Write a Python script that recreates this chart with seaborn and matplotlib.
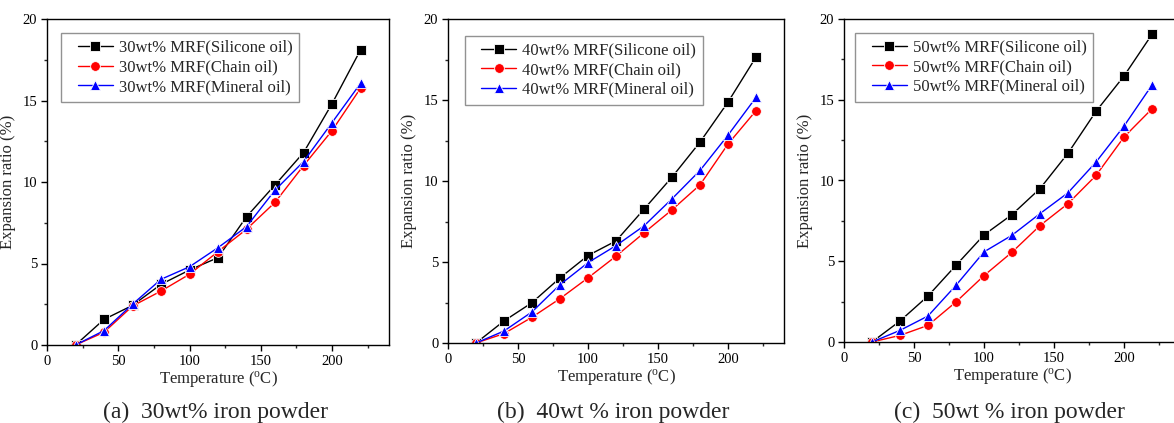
import numpy as np
import pandas as pd
import matplotlib
matplotlib.use("Agg")
import matplotlib.pyplot as plt
import seaborn as sns
from matplotlib.ticker import MultipleLocator
from matplotlib.lines import Line2D
from matplotlib.legend_handler import HandlerLine2D

temps = [20, 40, 60, 80, 100, 120, 140, 160, 180, 200, 220]
oils = ["Silicone oil", "Chain oil", "Mineral oil"]

a_silicone = [0, 1.57, 2.43, 3.72, 4.6, 5.36, 7.87, 9.82, 11.8, 14.8, 18.1]
a_chain = [0, 0.78, 2.39, 3.31, 4.34, 5.73, 7.1, 8.75, 11.0, 13.15, 15.75]
a_mineral = [0, 0.88, 2.5, 4.03, 4.8, 5.97, 7.26, 9.5, 11.25, 13.64, 16.05]

b_silicone = [0, 1.36, 2.49, 4.02, 5.4, 6.3, 8.26, 10.24, 12.4, 14.87, 17.65]
b_chain = [0, 0.58, 1.59, 2.74, 4.02, 5.36, 6.8, 8.22, 9.76, 12.28, 14.34]
b_mineral = [0, 0.74, 1.92, 3.6, 4.96, 6.01, 7.23, 8.9, 10.65, 12.83, 15.16]

c_silicone = [0, 1.3, 2.85, 4.75, 6.63, 7.89, 9.5, 11.69, 14.28, 16.47, 19.05]
c_chain = [0, 0.41, 1.03, 2.48, 4.11, 5.56, 7.21, 8.57, 10.31, 12.69, 14.44]
c_mineral = [0, 0.72, 1.61, 3.51, 5.58, 6.61, 7.95, 9.24, 11.14, 13.37, 15.91]

wt_labels = ["30wt%", "40wt%", "50wt%"]
captions = ["(a)  30wt% iron powder", "(b)  40wt % iron powder", "(c)  50wt % iron powder"]

panels = [
    (a_silicone, a_chain, a_mineral),
    (b_silicone, b_chain, b_mineral),
    (c_silicone, c_chain, c_mineral),
]

sns.set_theme(style="ticks")
plt.rcParams["font.family"] = ["Liberation Serif", "DejaVu Serif"]
plt.rcParams["mathtext.fontset"] = "custom"
plt.rcParams["mathtext.rm"] = "Liberation Serif"
plt.rcParams["mathtext.it"] = "Liberation Serif:italic"

fig = plt.figure(figsize=(11.74, 4.23), dpi=100)
W, H = 1174.0, 423.0
# (left, right, top, bottom) in pixels
rects = [(47, 389, 19, 345), (448, 784, 19, 343), (844, 1180, 19, 342)]
leg_anchor = [(0.041, 0.957), (0.05, 0.948), (0.033, 0.957)]
palette = ["black", "red", "blue"]
markers = ["s", "o", "^"]

for i, (vals, rect, wt, cap) in enumerate(zip(panels, rects, wt_labels, captions)):
    l, r, t, b = rect
    ax = fig.add_axes([l / W, 1 - b / H, (r - l) / W, (b - t) / H])
    rows = []
    for oil, series in zip(oils, vals):
        for T, v in zip(temps, series):
            rows.append({"Temperature": T, "ratio": v, "series": f"{wt} MRF({oil})"})
    df = pd.DataFrame(rows)
    order = [f"{wt} MRF({o})" for o in oils]
    sns.lineplot(data=df, x="Temperature", y="ratio", hue="series", style="series",
                 hue_order=order, style_order=order, palette=palette,
                 markers=markers, dashes=False, markersize=7, linewidth=1.0,
                 markeredgewidth=0.6, ax=ax)
    ax.set_xlim(0, 240)
    ax.set_ylim(0, 20)
    ax.xaxis.set_major_locator(MultipleLocator(50))
    ax.xaxis.set_minor_locator(MultipleLocator(25))
    ax.yaxis.set_major_locator(MultipleLocator(5))
    ax.yaxis.set_minor_locator(MultipleLocator(2.5))
    ax.tick_params(which="major", direction="out", length=4, width=1, labelsize=10.5,
                   colors="black", pad=3)
    ax.tick_params(which="minor", direction="out", length=2.5, width=1)
    for s in ax.spines.values():
        s.set_color("black")
        s.set_linewidth(1.0)
    ax.set_xlabel(r"Temperature ($^{\rm o}$C)", fontsize=12, labelpad=1)
    ax.set_ylabel("Expansion ratio (%)", fontsize=12, labelpad=5)
    leg = ax.legend(loc="upper left", bbox_to_anchor=leg_anchor[i], borderaxespad=0,
                    fontsize=12, frameon=True, fancybox=False, handlelength=2.7,
                    handletextpad=0.35, labelspacing=0.22, borderpad=0.4,
                    handler_map={Line2D: HandlerLine2D(xpad=0.6)})
    leg.get_frame().set_edgecolor("#777777")
    leg.get_frame().set_linewidth(1.0)
    fig.text((l + r) / 2 / W - 0.002, 1 - 412 / H, cap, ha="center", va="center", fontsize=17)

fig.savefig("out.png", dpi=100)
